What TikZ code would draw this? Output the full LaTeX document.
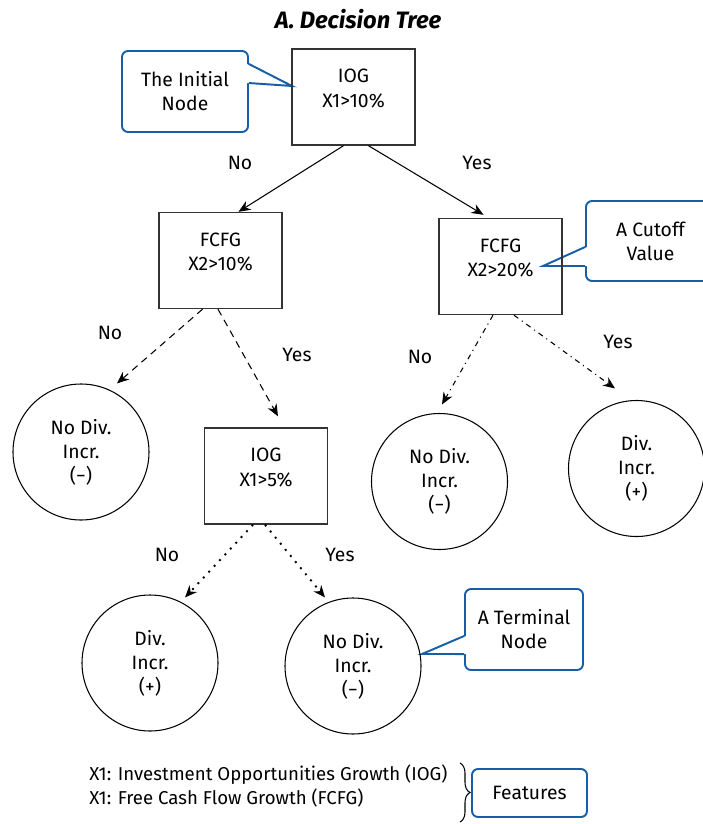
\documentclass[tikz,border=0pt]{standalone}
\usepackage{fontspec}
\setmainfont{Fira Sans}
\usepackage{tikz}
\usetikzlibrary{arrows.meta,positioning,calc,decorations.pathreplacing}
\definecolor{note-blue}{RGB}{22,94,168}
\definecolor{box-gray}{RGB}{51,51,51}

\begin{document}
\begin{tikzpicture}[x=0.2mm, y=-0.2mm, font=\fontsize{11}{13.7}\selectfont,
    splitbox/.style={rectangle, draw=box-gray, line width=0.8pt, minimum width=24.6mm, minimum height=19.2mm, align=center, text depth=10pt},
    leaf/.style={circle, draw, line width=0.6pt, minimum size=27.2mm, inner sep=0pt, align=center},
    note/.style={rectangle, draw=note-blue, line width=1.1pt, rounded corners=1.2mm, fill=white, align=center},
    noteline/.style={draw=note-blue, line width=1.1pt},
    branch/.style={-{Stealth[length=2.4mm, width=2mm]}, line width=0.6pt},
    branchlabel/.style={inner sep=1pt}]
    \useasboundingbox (0,0) rectangle (703,824);

    % Title
    \node[font=\fontsize{13.5}{16}\selectfont\bfseries\itshape] (title) at (358,19) {A. Decision Tree};

    % Notes
    \node[note, minimum width=25.2mm, minimum height=16.2mm] (initnote) at (185,91.5) {The Initial\\Node};
    \coordinate (inittip) at (292,86);
    \fill[white] ($(initnote.north east)+(-2,14)$) -- (inittip) -- ($(initnote.north east)+(-2,33)$) -- cycle;
    \draw[noteline] ($(initnote.north east)+(0,14)$) -- (inittip) -- ($(initnote.north east)+(0,33)$);

    \node[note, minimum width=25.8mm, minimum height=16mm] (cutnote) at (650.5,241) {A Cutoff\\Value};
    \coordinate (cuttip) at (543,266);
    \fill[white] ($(cutnote.north west)+(2,47)$) -- (cuttip) -- ($(cutnote.north west)+(2,66)$) -- cycle;
    \draw[noteline] ($(cutnote.north west)+(0,47)$) -- (cuttip) -- ($(cutnote.north west)+(0,66)$);

    \node[note, minimum width=23.6mm, minimum height=16.2mm] (termnote) at (524,629.5) {A Terminal\\Node};
    \coordinate (termtip) at (422,654);
    \fill[white] ($(termnote.north west)+(2,48)$) -- (termtip) -- ($(termnote.north west)+(2,66)$) -- cycle;
    \draw[noteline] ($(termnote.north west)+(0,48)$) -- (termtip) -- ($(termnote.north west)+(0,66)$);

    % Split nodes
    \node[splitbox] (root) at (353.5,97) {IOG\\X1>10\%};
    \node[splitbox] (fcfgA) at (220.5,260.5) {FCFG\\X2>10\%};
    \node[splitbox] (fcfgB) at (500.5,266.5) {FCFG\\X2>20\%};
    \node[splitbox] (iogB) at (266,476) {IOG\\X1>5\%};

    % Terminal nodes
    \node[leaf] (leafA) at (81,452) {No Div.\\Incr.\\(−)};
    \node[leaf] (leafB) at (439.5,481.5) {No Div.\\Incr.\\(−)};
    \node[leaf] (leafC) at (636.5,468.5) {Div.\\Incr.\\(+)};
    \node[leaf] (leafD) at (150,663) {Div.\\Incr.\\(+)};
    \node[leaf] (leafE) at (353,666) {No Div.\\Incr.\\(−)};

    % Branches
    \draw[branch] ($(root.south)+(-10,0)$) -- ($(fcfgA.north)+(18,0)$);
    \draw[branch] ($(root.south)+(15,0)$) -- ($(fcfgB.north)+(-17,-3)$);
    \draw[branch, dash pattern=on 4pt off 3pt] ($(fcfgA.south)+(-18,0)$) -- ($(leafA.north)+(36,0)$);
    \draw[branch, dash pattern=on 4pt off 3pt] ($(fcfgA.south)+(-2.5,0)$) -- ($(iogB.north)+(12,-11)$);
    \draw[branch, dash pattern=on 3pt off 2.5pt on 0.6pt off 2.5pt] ($(fcfgB.south)+(-7.5,0)$) -- ($(leafB.north)+(2.5,-8.5)$);
    \draw[branch, dash pattern=on 3pt off 2.5pt on 0.6pt off 2.5pt] ($(fcfgB.south)+(13.5,0)$) -- ($(leafC.north)+(-21.5,-11.5)$);
    \draw[branch, line width=1.1pt, dash pattern=on 1.1pt off 3.4pt] ($(iogB.south)+(-13,0)$) -- ($(leafD.north)+(35,3)$);
    \draw[branch, line width=1.1pt, dash pattern=on 1.1pt off 3.4pt] ($(iogB.south)+(-1,0)$) -- ($(leafE.north)+(-28,0)$);

    % Branch labels
    \node[branchlabel] (noA) at (240,163) {No};
    \node[branchlabel] (yesA) at (477,163) {Yes};
    \node[branchlabel] (noB) at (110,333) {No};
    \node[branchlabel] (yesB) at (297,355) {Yes};
    \node[branchlabel] (noC) at (420,357) {No};
    \node[branchlabel] (yesC) at (618,342) {Yes};
    \node[branchlabel] (noD) at (167,555) {No};
    \node[branchlabel] (yesD) at (340,555) {Yes};

    % Legend
    \node[anchor=west, align=left, inner sep=0pt, font=\fontsize{10.6}{13.7}\selectfont] (legend) at (89,786) {X1: Investment Opportunities Growth (IOG)\\X1: Free Cash Flow Growth (FCFG)};
    \coordinate (bracetop) at (460,763);
    \coordinate (bracebot) at (460,822);
    \draw[line width=0.6pt, decorate, decoration={brace, amplitude=2mm}] (bracetop) -- (bracebot);
    \node[note, minimum width=23mm, minimum height=9.6mm] (features) at (529.5,793) {Features};
\end{tikzpicture}
\end{document}
